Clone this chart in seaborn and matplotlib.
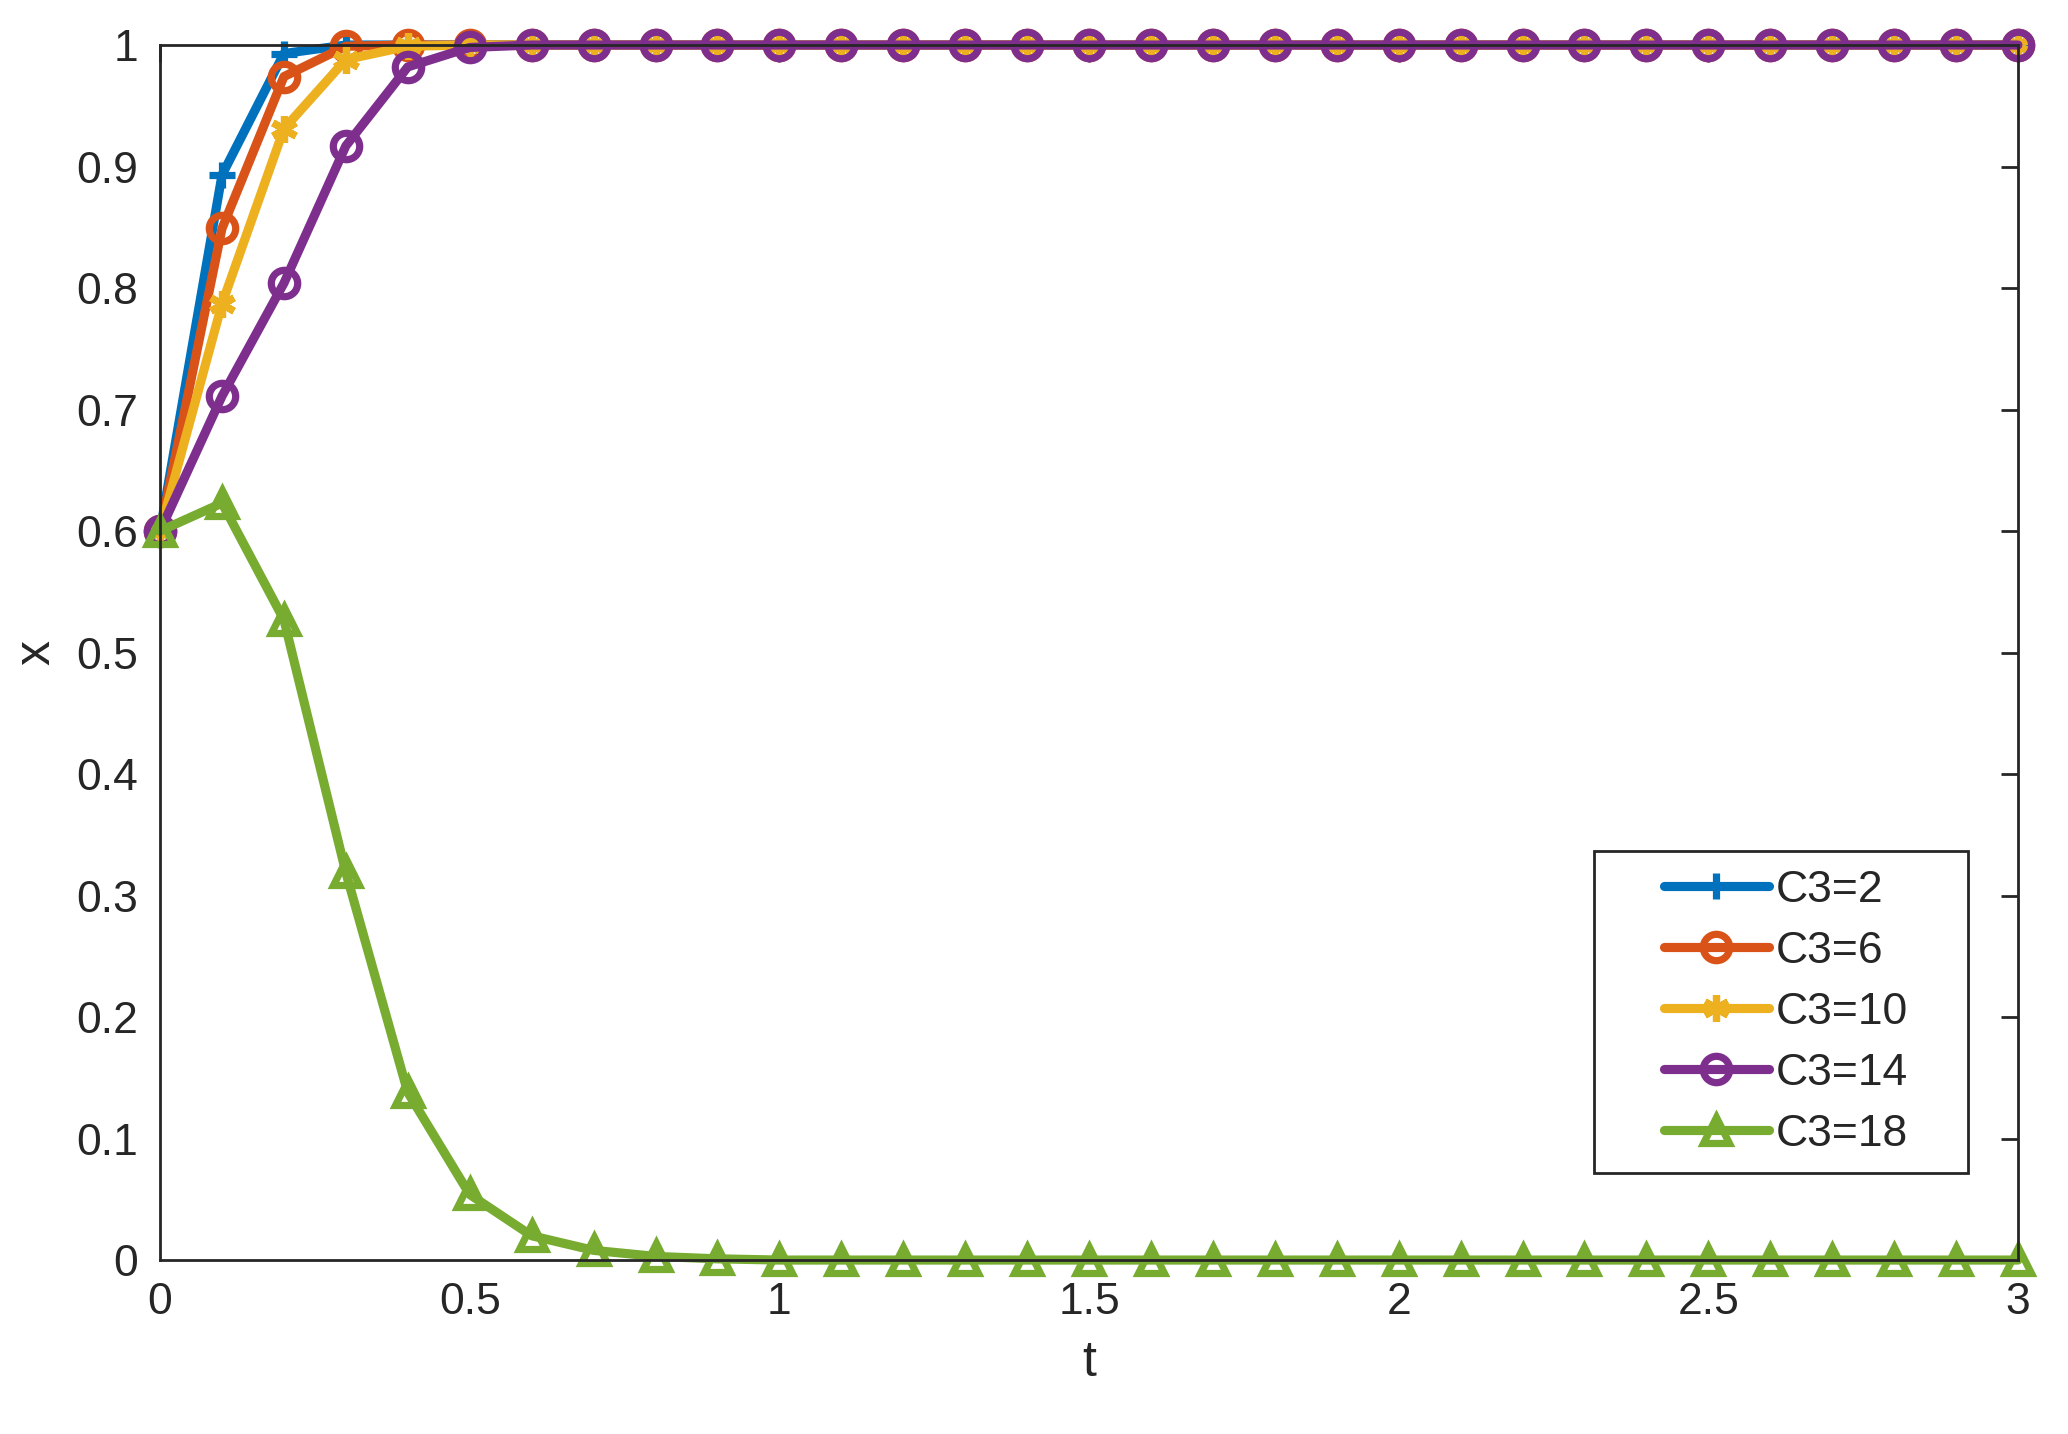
import numpy as np
import pandas as pd
import matplotlib
matplotlib.use('Agg')
import matplotlib.pyplot as plt
from matplotlib.patches import Rectangle
import seaborn as sns
from matplotlib.ticker import FormatStrFormatter

# time steps 0, 0.1, ..., 3.0
t = [round(0.1 * i, 1) for i in range(31)]

c3_2 = [0.6, 0.893, 0.993, 1.0, 1.0, 1.0, 1.0, 1.0, 1.0, 1.0, 1.0,
        1.0, 1.0, 1.0, 1.0, 1.0, 1.0, 1.0, 1.0, 1.0, 1.0,
        1.0, 1.0, 1.0, 1.0, 1.0, 1.0, 1.0, 1.0, 1.0, 1.0]
c3_6 = [0.6, 0.849, 0.974, 0.999, 1.0, 1.0, 1.0, 1.0, 1.0, 1.0, 1.0,
        1.0, 1.0, 1.0, 1.0, 1.0, 1.0, 1.0, 1.0, 1.0, 1.0,
        1.0, 1.0, 1.0, 1.0, 1.0, 1.0, 1.0, 1.0, 1.0, 1.0]
c3_10 = [0.6, 0.787, 0.931, 0.988, 0.999, 1.0, 1.0, 1.0, 1.0, 1.0, 1.0,
         1.0, 1.0, 1.0, 1.0, 1.0, 1.0, 1.0, 1.0, 1.0, 1.0,
         1.0, 1.0, 1.0, 1.0, 1.0, 1.0, 1.0, 1.0, 1.0, 1.0]
c3_14 = [0.6, 0.711, 0.804, 0.917, 0.982, 0.998, 1.0, 1.0, 1.0, 1.0, 1.0,
         1.0, 1.0, 1.0, 1.0, 1.0, 1.0, 1.0, 1.0, 1.0, 1.0,
         1.0, 1.0, 1.0, 1.0, 1.0, 1.0, 1.0, 1.0, 1.0, 1.0]
c3_18 = [0.6, 0.623, 0.527, 0.319, 0.138, 0.054, 0.02, 0.008, 0.003, 0.001, 0.0,
         0.0, 0.0, 0.0, 0.0, 0.0, 0.0, 0.0, 0.0, 0.0, 0.0,
         0.0, 0.0, 0.0, 0.0, 0.0, 0.0, 0.0, 0.0, 0.0, 0.0]

labels = ['C3=2', 'C3=6', 'C3=10', 'C3=14', 'C3=18']
series = [c3_2, c3_6, c3_10, c3_14, c3_18]
colors = ['#0072BD', '#D95319', '#EDB120', '#7E2F8E', '#77AC30']
markers = ['+', 'o', (6, 2, 0), 'o', '^']

sns.set_style('white')
plt.rcParams['font.family'] = ['Liberation Sans', 'DejaVu Sans']

fig, ax = plt.subplots(figsize=(10.34, 7.17), dpi=200)
fig.subplots_adjust(left=0.0774, right=0.9758, top=0.9686, bottom=0.1213)

for lab, vals, c, m in zip(labels, series, colors, markers):
    df = pd.DataFrame({'t': t, 'x': vals})
    sns.lineplot(data=df, x='t', y='x', ax=ax, color=c, marker=m,
                 markersize=9.5, markerfacecolor='none', markeredgecolor=c,
                 markeredgewidth=2.6, linewidth=3.3, label=lab, clip_on=False)

ax.set_xlim(0, 3)
ax.set_ylim(0, 1)
ax.set_xticks(np.arange(0, 3.01, 0.5))
ax.set_yticks(np.arange(0, 1.01, 0.1))
ax.xaxis.set_major_formatter(FormatStrFormatter('%g'))
ax.yaxis.set_major_formatter(FormatStrFormatter('%g'))
ax.tick_params(direction='in', length=6, width=1, top=True, right=True,
               labelsize=16, colors='#262626', pad=8)
for sp in ax.spines.values():
    sp.set_color('#262626')
    sp.set_linewidth(1)
ax.set_xlabel('t', fontsize=18, color='#262626', labelpad=6)
ax.set_ylabel('x', fontsize=18, color='#262626', labelpad=6)

# MATLAB-style legend box, drawn separately so the entries sit centred in it
ax.add_patch(Rectangle((0.772, 0.072), 0.201, 0.265, transform=ax.transAxes,
                       facecolor='white', edgecolor='#262626', linewidth=1,
                       zorder=4, clip_on=False))
leg = ax.legend(loc='center', bbox_to_anchor=(0.875, 0.204),
                fontsize=16, frameon=False, handlelength=2.36,
                handletextpad=0.15, labelspacing=0.45, borderaxespad=0)
leg.set_zorder(5)

plt.savefig('out.png', dpi=200)
